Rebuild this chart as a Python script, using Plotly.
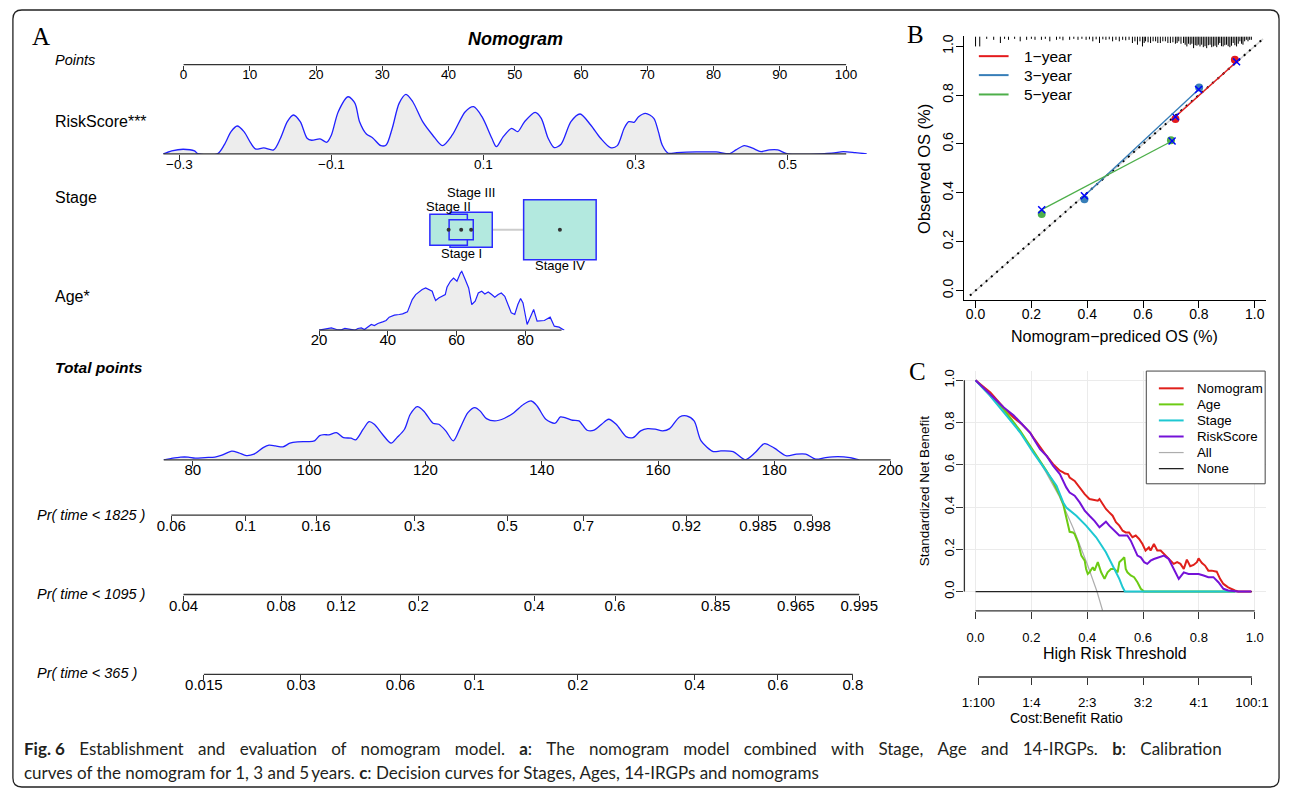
import plotly.graph_objects as go

W, H = 1292, 795
def PX(px): return px / W
def PY(py): return 1 - py / H

SANS = "Liberation Sans, Arial, sans-serif"
SERIF = "Liberation Serif, Times New Roman, serif"

# ---------------- DATA ----------------
points_ticks = [0, 10, 20, 30, 40, 50, 60, 70, 80, 90, 100]

riskscore_ticks = [-0.3, -0.1, 0.1, 0.3, 0.5]
riskscore_labels = ["\u22120.3", "\u22120.1", "0.1", "0.3", "0.5"]
riskscore_x = [-0.321, -0.310, -0.295, -0.280, -0.276, -0.250, -0.241, -0.232, -0.224, -0.215, -0.206, -0.200,
               -0.189, -0.176, -0.167, -0.158, -0.150, -0.141, -0.132, -0.126, -0.115, -0.106, -0.100, -0.091,
               -0.078, -0.069, -0.063, -0.054, -0.046, -0.035, -0.028, -0.020, -0.011, -0.002, 0.007, 0.020,
               0.033, 0.046, 0.059, 0.076, 0.087, 0.098, 0.111, 0.117, 0.126, 0.137, 0.145, 0.154, 0.168, 0.176,
               0.185, 0.193, 0.202, 0.215, 0.227, 0.241, 0.254, 0.267, 0.276, 0.285, 0.291, 0.298, 0.304, 0.313,
               0.324, 0.330, 0.335, 0.343, 0.354, 0.380, 0.406, 0.424, 0.432, 0.443, 0.454, 0.465, 0.476, 0.487,
               0.500, 0.558, 0.573, 0.589, 0.604]
riskscore_density = [0, 3, 4.7, 3, 0.3, 0, 9, 22.3, 28, 22.3, 10.7, 5,
                     6, 4, 15.7, 32.3, 39, 32.3, 15.7, 13.7, 15, 11.7, 19, 42.3,
                     57.3, 50.7, 32.3, 20, 16.3, 8.3, 9, 25.7, 50.7, 59.7, 52.3, 32.3,
                     19, 8.3, 19, 42.3, 47.3, 37.3, 15.7, 7.3, 17.3, 25.7, 22.3, 32.3, 41.7, 35.7,
                     15.7, 6.3, 9.7, 32.3, 40, 29, 15.7, 6.3, 8.3, 25.7, 32.3, 31.7, 37.3, 40.7,
                     35.7, 22.3, 9, 0.7, 1.3, 2, 2, 0.3, 4, 8.3, 5.7, 2.3, 4, 4,
                     0, 0.7, 2.3, 1.3, 0]

stage_names = ["Stage I", "Stage II", "Stage III", "Stage IV"]
stage_points = [41.9, 40.0, 43.4, 56.8]
stage_weight = [20, 31, 35, 60]          # relative frequency (box size)

age_ticks = [20, 40, 60, 80]
age_x = [20.0, 22.2, 23.6, 25.1, 26.5, 27.5, 28.9, 30.4, 31.3, 32.3, 33.2, 34.2, 35.2, 36.1, 37.1, 38.5,
         39.5, 40.4, 41.9, 43.3, 44.3, 45.7, 46.4, 47.1, 48.1, 49.1, 50.0, 51.0, 51.9, 52.9, 53.4, 53.9,
         54.8, 55.8, 56.7, 57.2, 58.2, 59.1, 60.1, 61.1, 61.5, 62.5, 63.5, 64.4, 65.4, 66.3, 67.3, 68.2,
         69.2, 70.2, 71.1, 72.1, 73.0, 74.0, 75.0, 75.9, 76.9, 77.8, 78.6, 79.3, 80.5, 81.7, 82.4, 83.4,
         84.4, 85.5, 87.2, 88.4, 89.8, 91.3]
age_density = [0, 1.7, 2.3, 0.7, 0.3, 1.7, 0.7, 0, 1.7, 2.3, 0.7, 3.3, 5.7, 4.7, 6.7, 8.3,
               9.7, 13, 15, 15.7, 16.3, 18.3, 25.7, 30.7, 35.7, 38.3, 40.7, 42.3, 40.7, 39, 34, 29.7,
               32.3, 34, 35.7, 43, 49, 52.3, 49, 57.3, 59, 50.7, 42.3, 25.7, 29, 37.3, 39, 36.3,
               38.3, 35.7, 33, 35.7, 37.3, 34, 25.7, 17.3, 15.7, 25.7, 31.7, 27.3, 5.7, 15.7, 20.7, 9,
               9, 9.7, 13, 4, 3, 0]

total_ticks = [80, 100, 120, 140, 160, 180, 200]
total_x = [75.0, 76.2, 77.9, 79.2, 80.4, 82.1, 83.8, 85.0, 86.7, 87.9, 89.2, 90.5, 92.1, 93.1, 94.2, 95.5,
           96.7, 98.0, 99.7, 100.9, 101.8, 102.6, 103.4, 104.7, 105.9, 107.2, 108.0, 109.3, 110.3, 111.2,
           112.6, 114.1, 115.1, 116.4, 117.4, 118.6, 119.7, 121.3, 122.3, 123.5, 124.8, 126.0, 127.3,
           128.5, 129.4, 130.5, 131.9, 133.6, 135.2, 136.9, 138.2, 139.2, 140.7, 142.3, 143.2, 144.0,
           145.3, 146.4, 147.8, 149.0, 150.3, 151.5, 152.8, 154.5, 155.7, 157.0, 158.2, 159.5, 160.8,
           162.0, 163.7, 164.9, 166.2, 167.4, 169.5, 170.8, 172.9, 175.0, 176.7, 178.3, 180.0, 182.1,
           183.8, 185.4, 187.1, 188.8, 190.9, 193.0, 194.6]
total_density = [0, 1.3, 2.7, 2.7, 1.7, 2.3, 2.7, 4.7, 8.7, 7, 4.3, 5.7, 12.3, 14.7, 14, 13,
                 16.7, 18, 18.3, 19, 24.3, 25.3, 25, 27.3, 22.3, 21.7, 20, 30.7, 38.3, 35.7,
                 25.7, 16.7, 22.3, 30.7, 45.7, 53.3, 49, 36.7, 35.7, 29, 19, 32.3, 47.3,
                 52.3, 49, 41.3, 39, 41.7, 47.3, 55.7, 59, 54, 40.7, 36.7, 43, 42.3,
                 39.7, 39, 29.7, 29.7, 35.7, 40.7, 35.7, 23.3, 22.3, 29, 31.3, 30.7, 29,
                 31.3, 43, 44, 39, 19, 8.3, 9, 8.3, 0, 7.3, 16.3, 11.7, 4,
                 5.7, 5.7, 0.7, 2.3, 3.3, 2.3, 0]

pr1825_labels = ["0.06", "0.1", "0.16", "0.3", "0.5", "0.7", "0.92", "0.985", "0.998"]
pr1825_pos = [76.3, 89.1, 101.2, 118.1, 134.1, 147.2, 164.9, 177.2, 186.5]
pr1095_labels = ["0.04", "0.08", "0.12", "0.2", "0.4", "0.6", "0.85", "0.965", "0.995"]
pr1095_pos = [78.4, 95.2, 105.5, 118.8, 138.7, 152.6, 169.9, 183.7, 194.6]
pr365_labels = ["0.015", "0.03", "0.06", "0.1", "0.2", "0.4", "0.6", "0.8"]
pr365_pos = [81.9, 98.6, 115.7, 128.4, 146.2, 166.3, 180.6, 193.5]

# calibration (panel B)
cal_years = ["1\u2212year", "3\u2212year", "5\u2212year"]
cal_pred = [[0.716, 0.929], [0.390, 0.801], [0.237, 0.700]]
cal_obs = [[0.702, 0.945], [0.374, 0.831], [0.313, 0.615]]
cal_corr_pred = [[0.716, 0.935], [0.390, 0.799], [0.237, 0.704]]
cal_corr_obs = [[0.711, 0.936], [0.388, 0.823], [0.331, 0.612]]
rug_x = [0.000, 0.015, 0.040, 0.065, 0.089, 0.104, 0.118, 0.140, 0.160, 0.183,
         0.200, 0.213, 0.236, 0.250, 0.266, 0.290, 0.302, 0.313, 0.337, 0.352,
         0.367, 0.381, 0.396, 0.408, 0.420, 0.432, 0.444, 0.456, 0.467, 0.479,
         0.491, 0.503, 0.515, 0.527, 0.538, 0.550, 0.562, 0.571, 0.580, 0.589,
         0.598, 0.604, 0.609, 0.618, 0.627, 0.636, 0.645, 0.653, 0.662, 0.671,
         0.680, 0.689, 0.698, 0.707, 0.716, 0.722, 0.728, 0.736, 0.745, 0.751,
         0.757, 0.763, 0.769, 0.775, 0.781, 0.787, 0.793, 0.798, 0.804, 0.810,
         0.816, 0.822, 0.828, 0.834, 0.840, 0.846, 0.852, 0.858, 0.864, 0.870,
         0.875, 0.881, 0.887, 0.893, 0.899, 0.905, 0.911, 0.917, 0.923, 0.929,
         0.935, 0.941, 0.947, 0.953, 0.958, 0.964, 0.970, 0.976, 0.982, 0.988]
rug_len = [0.041, 0.041, 0.010, 0.014, 0.027, 0.010, 0.014, 0.010, 0.020, 0.014,
           0.010, 0.014, 0.014, 0.010, 0.020, 0.014, 0.010, 0.016, 0.014, 0.010,
           0.014, 0.010, 0.014, 0.012, 0.020, 0.012, 0.027, 0.012, 0.014, 0.012,
           0.020, 0.014, 0.020, 0.014, 0.016, 0.014, 0.027, 0.020, 0.034, 0.020,
           0.041, 0.027, 0.020, 0.024, 0.027, 0.020, 0.020, 0.027, 0.027, 0.020,
           0.020, 0.027, 0.027, 0.024, 0.030, 0.027, 0.020, 0.030, 0.027, 0.034,
           0.041, 0.030, 0.034, 0.030, 0.048, 0.036, 0.038, 0.034, 0.041, 0.034,
           0.044, 0.040, 0.048, 0.036, 0.034, 0.044, 0.041, 0.038, 0.044, 0.034,
           0.027, 0.040, 0.041, 0.036, 0.034, 0.040, 0.044, 0.038, 0.027, 0.036,
           0.041, 0.030, 0.020, 0.030, 0.034, 0.020, 0.014, 0.020, 0.014, 0.014]

# decision curves (panel C)
thr_nomogram = [0, 0.053, 0.101, 0.136, 0.166, 0.195, 0.207, 0.231, 0.254, 0.278, 0.302, 0.314, 0.320, 0.331,
                0.337, 0.355, 0.373, 0.391, 0.408, 0.426, 0.438, 0.444, 0.456, 0.467, 0.479, 0.491, 0.503,
                0.515, 0.527, 0.538, 0.550, 0.562, 0.574, 0.586, 0.598, 0.609, 0.621, 0.627, 0.639, 0.651,
                0.663, 0.675, 0.686, 0.698, 0.710, 0.722, 0.734, 0.746, 0.757, 0.769, 0.781, 0.793, 0.799,
                0.811, 0.822, 0.834, 0.846, 0.864, 0.876, 0.888, 0.905, 0.929, 0.941, 0.988]
nb_nomogram = [1.0, 0.942, 0.871, 0.824, 0.792, 0.753, 0.729, 0.682, 0.643, 0.603, 0.572, 0.564, 0.559, 0.556,
               0.540, 0.524, 0.493, 0.461, 0.438, 0.435, 0.430, 0.438, 0.414, 0.391, 0.375, 0.359, 0.328,
               0.312, 0.288, 0.280, 0.280, 0.257, 0.265, 0.249, 0.225, 0.194, 0.209, 0.194, 0.225, 0.194,
               0.194, 0.178, 0.162, 0.146, 0.131, 0.139, 0.131, 0.107, 0.151, 0.120, 0.126, 0.139, 0.157,
               0.135, 0.123, 0.099, 0.099, 0.094, 0.060, 0.036, 0.020, 0.005, 0.0, 0.0]
thr_risk = [0, 0.101, 0.136, 0.172, 0.195, 0.213, 0.231, 0.254, 0.278, 0.302, 0.314, 0.325, 0.337, 0.355,
            0.373, 0.391, 0.408, 0.426, 0.444, 0.456, 0.467, 0.479, 0.491, 0.503, 0.515, 0.527, 0.544, 0.556,
            0.568, 0.580, 0.592, 0.604, 0.615, 0.627, 0.639, 0.657, 0.675, 0.692, 0.710, 0.728, 0.746, 0.763,
            0.781, 0.799, 0.817, 0.834, 0.852, 0.870, 0.888, 0.905, 0.941, 0.988]
nb_risk = [1.0, 0.871, 0.835, 0.784, 0.753, 0.713, 0.674, 0.643, 0.595, 0.556, 0.524, 0.493, 0.469, 0.454,
           0.422, 0.383, 0.359, 0.335, 0.304, 0.320, 0.331, 0.312, 0.296, 0.280, 0.265, 0.265, 0.265, 0.241,
           0.202, 0.170, 0.162, 0.139, 0.131, 0.146, 0.154, 0.162, 0.170, 0.154, 0.107, 0.060, 0.091, 0.083,
           0.083, 0.083, 0.076, 0.068, 0.068, 0.044, 0.013, 0.005, 0.0, 0.0]
thr_stage = [0, 0.05, 0.107, 0.160, 0.207, 0.254, 0.290, 0.314, 0.325, 0.361, 0.396, 0.432, 0.467, 0.491,
             0.515, 0.527, 0.535, 0.929]
nb_stage = [1.0, 0.93, 0.839, 0.753, 0.658, 0.572, 0.501, 0.422, 0.398, 0.359, 0.312, 0.257, 0.186, 0.123,
            0.060, 0.020, 0.0, 0.0]
thr_age = [0, 0.101, 0.160, 0.207, 0.254, 0.278, 0.302, 0.314, 0.320, 0.325, 0.331, 0.337, 0.349, 0.355,
           0.367, 0.379, 0.391, 0.396, 0.402, 0.408, 0.420, 0.426, 0.438, 0.450, 0.462, 0.473, 0.485, 0.497,
           0.509, 0.515, 0.527, 0.533, 0.538, 0.544, 0.556, 0.568, 0.580, 0.592, 0.604, 0.929]
nb_age = [1.0, 0.863, 0.761, 0.666, 0.572, 0.517, 0.454, 0.414, 0.383, 0.343, 0.312, 0.283, 0.280, 0.272,
          0.233, 0.170, 0.146, 0.107, 0.083, 0.091, 0.115, 0.099, 0.139, 0.091, 0.060, 0.091, 0.107, 0.107,
          0.091, 0.139, 0.154, 0.162, 0.107, 0.091, 0.076, 0.068, 0.044, 0.013, 0.0, 0.0]
thr_all = [0, 0.1, 0.2, 0.25, 0.3, 0.35, 0.4, 0.435, 0.455]
nb_all = [1.0, 0.86, 0.68, 0.57, 0.45, 0.30, 0.13, 0.0, -0.09]
thr_none = [0, 0.99]
nb_none = [0, 0]

cb_ticks = [0.01, 0.2, 0.4, 0.6, 0.8, 0.99]
cb_labels = ["1:100", "1:4", "2:3", "3:2", "4:1", "100:1"]
unit_ticks = [0, 0.2, 0.4, 0.6, 0.8, 1.0]
unit_labels = ["0.0", "0.2", "0.4", "0.6", "0.8", "1.0"]

# ---------------- FIGURE ----------------
fig = go.Figure()
layout = {}
shapes = []
annotations = []

NOMO_DOM = [PX(150), PX(900)]

def row_range(v0, p0, v1, p1, pa=150, pb=900):
    k = (v1 - v0) / (p1 - p0)
    return [v0 + (pa - p0) * k, v0 + (pb - p0) * k]

def nomo_x(n, rng, tickvals, ticktext, fs, visible=True, standoff=-8):
    layout["xaxis" + n] = dict(domain=NOMO_DOM, range=rng, anchor="y" + n, tickmode="array",
                               tickvals=tickvals, ticktext=ticktext, ticks="outside", ticklen=5,
                               tickwidth=1, tickcolor="#333", showgrid=False, zeroline=False,
                               showline=False, visible=visible, ticklabelstandoff=standoff,
                               tickfont=dict(family=SANS, size=fs, color="black"))

def nomo_y(n, base_py, top_py, rng):
    layout["yaxis" + n] = dict(domain=[PY(base_py), PY(top_py)], range=rng, anchor="x" + n, visible=False)

def axis_line(n, a, b):
    shapes.append(dict(type="line", xref="x" + n, yref="y" + n + " domain", x0=a, x1=b, y0=0, y1=0,
                       line=dict(color="#333", width=1.3)))

pts_rng = row_range(0, 182.3, 100, 851)
rs_rng = row_range(-0.3, 178, 0.5, 792)
age_rng = row_range(20, 319, 80, 527.3)
tot_rng = row_range(80, 191.6, 200, 896)

# Row 1: points
nomo_x("", pts_rng, points_ticks, [str(v) for v in points_ticks], 13.5, standoff=-8)
nomo_y("", 62.7, 45, [0, 1])
axis_line("", points_ticks[0], points_ticks[-1])
fig.add_trace(go.Scatter(x=[], y=[], xaxis="x", yaxis="y", showlegend=False))

# Row 2: RiskScore
nomo_x("2", rs_rng, riskscore_ticks, riskscore_labels, 13.5, standoff=-7)
nomo_y("2", 152.3, 90.3, [0, 62])
axis_line("2", riskscore_x[0], 0.577)
fig.add_trace(go.Scatter(x=riskscore_x, y=riskscore_density, xaxis="x2", yaxis="y2", mode="lines",
                         line=dict(color="#2020FF", width=1.3, shape="spline", smoothing=0.8),
                         fill="tozeroy", fillcolor="#EDEDED", showlegend=False, hoverinfo="skip"))

# Row 3: Stage
nomo_x("3", pts_rng, [], [], 13, visible=False)
nomo_y("3", 266.3, 190.3, [-38, 38])
ASPECT = 1.22
PT_PER_PX = 100 / (851 - 182.3)
order = sorted(range(4), key=lambda i: -stage_weight[i])
shapes.append(dict(type="line", xref="x3", yref="y3", x0=min(stage_points), x1=max(stage_points), y0=0, y1=0,
                   line=dict(color="#CCCCCC", width=2), layer="below"))
for i in order:
    hh = stage_weight[i] / 2
    hw = hh * ASPECT * PT_PER_PX
    shapes.append(dict(type="rect", xref="x3", yref="y3", x0=stage_points[i] - hw, x1=stage_points[i] + hw,
                       y0=-hh, y1=hh, fillcolor="#B3E9DF", line=dict(color="#2B2BFF", width=1.5),
                       layer="below"))
fig.add_trace(go.Scatter(x=stage_points, y=[0] * 4, xaxis="x3", yaxis="y3", mode="markers",
                         marker=dict(color="#333", size=4), showlegend=False, hoverinfo="skip"))
label_side = {"Stage I": (-1, 13.5), "Stage II": (1, 8), "Stage III": (1, 19.5), "Stage IV": (-1, 6)}
for i, nm in enumerate(stage_names):
    side, gap = label_side[nm]
    hh = stage_weight[i] / 2
    annotations.append(dict(x=stage_points[i], y=side * (hh + gap), xref="x3", yref="y3", text=nm,
                            showarrow=False, font=dict(family=SANS, size=13, color="black"),
                            xanchor="center", yanchor="middle"))

# Row 4: Age
nomo_x("4", age_rng, age_ticks, [str(v) for v in age_ticks], 15, standoff=-9)
nomo_y("4", 329, 267, [0, 62])
axis_line("4", 20, 90.5)
fig.add_trace(go.Scatter(x=age_x, y=age_density, xaxis="x4", yaxis="y4", mode="lines",
                         line=dict(color="#2020FF", width=1.2), fill="tozeroy", fillcolor="#EDEDED",
                         showlegend=False, hoverinfo="skip"))

# Row 5: Total points
nomo_x("5", tot_rng, total_ticks, [str(v) for v in total_ticks], 15, standoff=-9)
nomo_y("5", 459, 397, [0, 62])
axis_line("5", total_x[0], 200)
fig.add_trace(go.Scatter(x=total_x, y=total_density, xaxis="x5", yaxis="y5", mode="lines",
                         line=dict(color="#2020FF", width=1.3, shape="spline", smoothing=0.8),
                         fill="tozeroy", fillcolor="#EDEDED", showlegend=False, hoverinfo="skip"))

# Rows 6-8: probabilities
for n, base, pos, labs in [("6", 514.5, pr1825_pos, pr1825_labels),
                           ("7", 594, pr1095_pos, pr1095_labels),
                           ("8", 674, pr365_pos, pr365_labels)]:
    nomo_x(n, tot_rng, pos, labs, 15, standoff=-8)
    nomo_y(n, base, base - 10, [0, 1])
    axis_line(n, pos[0], pos[-1])
    fig.add_trace(go.Scatter(x=[], y=[], xaxis="x" + n, yaxis="y" + n, showlegend=False))

# row labels
def label(text, x, y, size, bold=False, italic=False, anchor="left", family=SANS):
    t = text
    if bold:
        t = "<b>" + t + "</b>"
    if italic:
        t = "<i>" + t + "</i>"
    annotations.append(dict(x=PX(x), y=PY(y), xref="paper", yref="paper", text=t, showarrow=False,
                            xanchor=anchor, yanchor="middle",
                            font=dict(family=family, size=size, color="black")))

label("Nomogram", 517, 37.5, 18, bold=True, italic=True, anchor="center")
label("Points", 50, 58, 14.5, italic=True)
label("RiskScore***", 50, 120, 16)
label("Stage", 50, 196, 16)
label("Age*", 50, 295, 16)
label("Total points", 50, 366, 15.5, bold=True, italic=True)
label("Pr( time &lt; 1825 )", 32, 514, 14.5, italic=True)
label("Pr( time &lt; 1095 )", 32, 593, 14.5, italic=True)
label("Pr( time &lt; 365 )", 32, 673, 14.5, italic=True)

for t, x, y in [("A", 38, 35), ("B", 921, 33), ("C", 923, 370)]:
    annotations.append(dict(x=PX(x), y=PY(y), xref="paper", yref="paper", text=t, showarrow=False,
                            xanchor="center", yanchor="middle",
                            font=dict(family=SERIF, size=25, color="black")))

# ---------------- Panel B: calibration ----------------
BX = [PX(970.4), PX(1274.7)]
layout["xaxis9"] = dict(domain=BX, range=[-0.04, 1.04], anchor="y9", tickmode="array", tickvals=unit_ticks,
                        ticktext=unit_labels, ticks="outside", ticklen=7, tickcolor="black", showgrid=False,
                        zeroline=False, showline=True, linecolor="black", linewidth=1.3,
                        ticklabelstandoff=-6, tickfont=dict(family=SANS, size=14, color="black"))
layout["yaxis9"] = dict(domain=[PY(299.1), PY(34.5)], range=[-0.04, 1.04], anchor="x9", tickmode="array",
                        tickvals=unit_ticks, ticktext=unit_labels, ticks="outside", ticklen=7,
                        tickcolor="black", showgrid=False, zeroline=False, showline=True, linecolor="black",
                        linewidth=1.3, tickangle=-90, ticklabelstandoff=-2,
                        tickfont=dict(family=SANS, size=14, color="black"))
fig.add_trace(go.Scatter(x=[-0.02, 1.03], y=[-0.02, 1.03], xaxis="x9", yaxis="y9", mode="lines",
                         line=dict(color="#D0D0D0", width=1.5), showlegend=False, hoverinfo="skip"))
fig.add_trace(go.Scatter(x=[-0.02, 1.03], y=[-0.02, 1.03], xaxis="x9", yaxis="y9", mode="lines",
                         line=dict(color="black", width=2, dash="2px,5px"), showlegend=False, hoverinfo="skip"))
rx, ry = [], []
for x, l in zip(rug_x, rug_len):
    rx += [x, x, None]
    ry += [1.04, 1.04 - l, None]
fig.add_trace(go.Scatter(x=rx, y=ry, xaxis="x9", yaxis="y9", mode="lines", line=dict(color="black", width=1),
                         showlegend=False, hoverinfo="skip"))
cal_colors = ["#E41A1C", "#377EB8", "#4DAF4A"]
for k in range(3):
    fig.add_trace(go.Scatter(x=cal_corr_pred[k], y=cal_corr_obs[k], xaxis="x9", yaxis="y9", mode="lines",
                             line=dict(color=cal_colors[k], width=1.3), showlegend=False, hoverinfo="skip"))
    fig.add_trace(go.Scatter(x=cal_pred[k], y=cal_obs[k], xaxis="x9", yaxis="y9", mode="markers",
                             marker=dict(color=cal_colors[k], size=8), showlegend=False, hoverinfo="skip"))
    fig.add_trace(go.Scatter(x=cal_corr_pred[k], y=cal_corr_obs[k], xaxis="x9", yaxis="y9", mode="markers",
                             marker=dict(symbol="x-thin", size=7, line=dict(color="#0000FF", width=1.5)),
                             showlegend=False, hoverinfo="skip"))
for k, yy in enumerate([54.3, 73.3, 92.7]):
    shapes.append(dict(type="line", xref="paper", yref="paper", x0=PX(985), x1=PX(1015), y0=PY(yy), y1=PY(yy),
                       line=dict(color=cal_colors[k], width=2)))
    label(cal_years[k], 1029, yy, 15.5)
label("Nomogram\u2212prediced OS (%)", 1122, 335, 16, anchor="center")
annotations.append(dict(x=PX(929), y=PY(167), xref="paper", yref="paper", text="Observed OS (%)",
                        showarrow=False, textangle=-90, xanchor="center", yanchor="middle",
                        font=dict(family=SANS, size=16.5, color="black")))

# ---------------- Panel C: decision curves ----------------
layout["xaxis10"] = dict(domain=BX, range=[-0.04, 1.04], anchor="y10", tickmode="array", tickvals=unit_ticks,
                         ticktext=unit_labels, ticks="outside", ticklen=7, tickcolor="#333",
                         showgrid=True, gridcolor="#EBEBEB", gridwidth=1, zeroline=False, showline=False,
                         ticklabelstandoff=7, tickfont=dict(family=SANS, size=13, color="black"))
layout["yaxis10"] = dict(domain=[PY(610.5), PY(370.4)], range=[-0.092, 1.042], anchor="x10", tickmode="array",
                         tickvals=unit_ticks, ticktext=unit_labels, ticks="outside", ticklen=7,
                         tickcolor="#333", showgrid=True, gridcolor="#EBEBEB", gridwidth=1, zeroline=False,
                         showline=False, tickangle=-90, ticklabelstandoff=-3,
                         tickfont=dict(family=SANS, size=13, color="black"))
shapes.append(dict(type="line", xref="x10 domain", yref="y10", x0=0, x1=0, y0=0, y1=1,
                   line=dict(color="#333", width=1.3)))
shapes.append(dict(type="line", xref="x10", yref="y10 domain", x0=0, x1=1, y0=0, y1=0,
                   line=dict(color="#333", width=1.3)))
dca = [("All", thr_all, nb_all, "#ADADAD", 1.2),
       ("None", thr_none, nb_none, "#222222", 1.3),
       ("Nomogram", thr_nomogram, nb_nomogram, "#E0201B", 2),
       ("Age", thr_age, nb_age, "#6CCB14", 2),
       ("Stage", thr_stage, nb_stage, "#1EC8D2", 2),
       ("RiskScore", thr_risk, nb_risk, "#7412D8", 2)]
for nm, xs, ys, col, w in dca:
    fig.add_trace(go.Scatter(x=xs, y=ys, xaxis="x10", yaxis="y10", mode="lines", line=dict(color=col, width=w),
                             showlegend=False, hoverinfo="skip", name=nm))
legend_order = ["Nomogram", "Age", "Stage", "RiskScore", "All", "None"]
dca_map = {d[0]: d for d in dca}
shapes.append(dict(type="rect", xref="paper", yref="paper", x0=PX(1154), x1=PX(1274), y0=PY(483), y1=PY(370),
                   line=dict(color="#444", width=1), fillcolor="white"))
for k, nm in enumerate(legend_order):
    yy = 387.3 + k * 16.1
    _, _, _, col, w = dca_map[nm]
    shapes.append(dict(type="line", xref="paper", yref="paper", x0=PX(1166.7), x1=PX(1191.7), y0=PY(yy),
                       y1=PY(yy), line=dict(color=col, width=w)))
    label(nm, 1203, yy, 13.3)
label("High Risk Threshold", 1122, 653.5, 16, anchor="center")
annotations.append(dict(x=PX(930), y=PY(490), xref="paper", yref="paper", text="Standardized Net Benefit",
                        showarrow=False, textangle=-90, xanchor="center", yanchor="middle",
                        font=dict(family=SANS, size=13.5, color="black")))

# Cost:Benefit axis
layout["xaxis11"] = dict(domain=BX, range=[-0.04, 1.04], anchor="y11", tickmode="array", tickvals=cb_ticks,
                         ticktext=cb_labels, ticks="outside", ticklen=7, tickcolor="#333", showgrid=False,
                         zeroline=False, showline=False, ticklabelstandoff=6,
                         tickfont=dict(family=SANS, size=13.3, color="black"))
layout["yaxis11"] = dict(domain=[PY(676.7), PY(668)], range=[0, 1], anchor="x11", visible=False)
shapes.append(dict(type="line", xref="x11", yref="y11 domain", x0=cb_ticks[0], x1=cb_ticks[-1], y0=0, y1=0,
                   line=dict(color="#333", width=1.3)))
fig.add_trace(go.Scatter(x=[], y=[], xaxis="x11", yaxis="y11", showlegend=False))
label("Cost:Benefit Ratio", 1073, 718, 14, anchor="center")

# ---------------- caption & frame ----------------
JS = " \u2004\u2005"   # widened word gap: first caption line is justified
cap1 = JS.join(["<b>Fig. 6</b>", "Establishment", "and", "evaluation", "of", "nomogram", "model.",
                "<b>a</b>:", "The", "nomogram", "model", "combined", "with", "Stage,", "Age", "and",
                "14-IRGPs.", "<b>b</b>:", "Calibration"])
cap2 = ("curves of the nomogram for 1, 3 and 5\u2009years. <b>c</b>: Decision curves for Stages, Ages, "
        "14-IRGPs and nomograms")
for txt, yy in [(cap1, 748), (cap2, 772)]:
    annotations.append(dict(x=PX(19), y=PY(yy), xref="paper", yref="paper", text=txt, showarrow=False,
                            xanchor="left", yanchor="middle",
                            font=dict(family="Lato, Open Sans, sans-serif", size=17, color="#231F20")))

x0, x1, y0, y1 = PX(10), PX(1288), PY(8), PY(787)
rx_, ry_ = 9 / W, 9 / H
path = (f"M {x0 + rx_},{y0} L {x1 - rx_},{y0} Q {x1},{y0} {x1},{y0 - ry_} L {x1},{y1 + ry_} "
        f"Q {x1},{y1} {x1 - rx_},{y1} L {x0 + rx_},{y1} Q {x0},{y1} {x0},{y1 + ry_} "
        f"L {x0},{y0 - ry_} Q {x0},{y0} {x0 + rx_},{y0} Z")
shapes.append(dict(type="path", xref="paper", yref="paper", path=path, line=dict(color="#222", width=1.3)))

fig.update_layout(width=W, height=H, margin=dict(l=0, r=0, t=0, b=0), paper_bgcolor="white",
                  plot_bgcolor="rgba(0,0,0,0)", showlegend=False, shapes=shapes, annotations=annotations,
                  **layout)
fig.write_html("out.html")
